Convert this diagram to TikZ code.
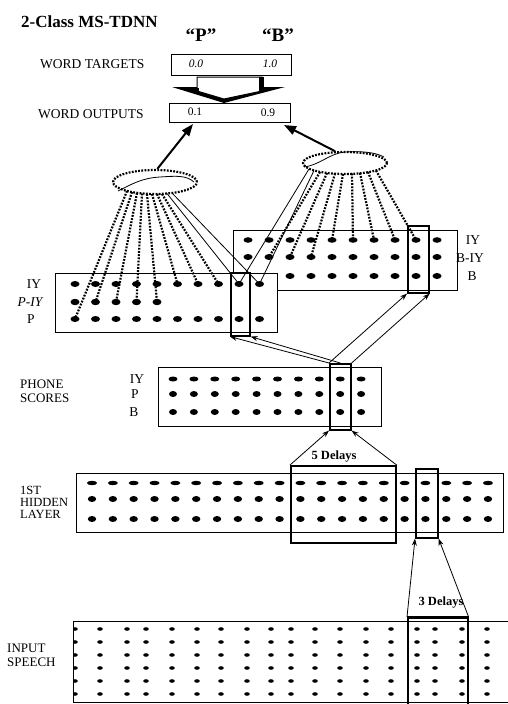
\documentclass[tikz,border=0pt]{standalone}
\usepackage{fontspec}
\setmainfont{Liberation Serif}
\usetikzlibrary{arrows.meta,shapes.geometric,calc}
\begin{document}
\begin{tikzpicture}[x=1pt,y=-1pt,
  lab/.style={font=\fontsize{13.5}{13.5}\selectfont, inner sep=0pt},
  box/.style={draw, line width=0.8pt, fill=white, inner sep=0pt, anchor=north west},
  hl/.style={draw, line width=1.6pt, inner sep=0pt, anchor=north west},
  fan/.style={line width=2.2pt, dash pattern=on 1.8pt off 1.4pt},
  solidfan/.style={line width=0.8pt},
  thinarrow/.style={line width=0.8pt, -{Stealth[length=7pt,width=5pt]}},
  bigarrow/.style={line width=2pt, -{Triangle[length=12pt,width=9pt]}},
  delays/.style={font=\bfseries\fontsize{12.5}{12.5}\selectfont, inner sep=0pt}
]
\useasboundingbox (0,0) rectangle (507,704);

% ---- title and word level ----
\node[anchor=west, inner sep=0pt, font=\bfseries\fontsize{17}{17}\selectfont] (title) at (21,22) {2-Class MS-TDNN};
\node[inner sep=0pt, font=\bfseries\fontsize{19}{19}\selectfont] (qp) at (201,35) {“P”};
\node[inner sep=0pt, font=\bfseries\fontsize{19}{19}\selectfont] (qb) at (278,35) {“B”};

\node[lab, anchor=west] (wtl) at (40,64) {WORD TARGETS};
\node[box, minimum width=120pt, minimum height=21pt] (wt) at (171,54) {};
\node[inner sep=0pt, font=\itshape\fontsize{11.5}{11.5}\selectfont] (t0) at (196,64) {0.0};
\node[inner sep=0pt, font=\itshape\fontsize{11.5}{11.5}\selectfont] (t1) at (270,64) {1.0};

\node[lab, anchor=west] (wol) at (38,114) {WORD OUTPUTS};
\node[box, minimum width=121pt, minimum height=19pt] (wo) at (169,103) {};
\node[inner sep=0pt, font=\fontsize{11.5}{11.5}\selectfont] (o1) at (195,112) {0.1};
\node[inner sep=0pt, font=\fontsize{11.5}{11.5}\selectfont] (o9) at (268,113) {0.9};

% hollow comparison arrow
\fill (172,87) -- (285,87) -- (224,103) -- cycle;
\filldraw[fill=white, line width=1pt, line join=miter] (197,77) -- (262,77) -- (262,91) -- (224,99) -- (197,91) -- cycle;
\fill (259,77) rectangle (264,92);
\fill (195,88) rectangle (199,92);

% ---- ellipses ----
\node[ellipse, draw, fan, minimum width=84pt, minimum height=24pt, inner sep=0pt] (le) at (155,182) {};
\node[ellipse, draw, fan, minimum width=84pt, minimum height=22pt, inner sep=0pt] (re) at (345,163) {};
\draw[line width=0.8pt] (118,191) .. controls (132,184) and (142,178) .. (160,177) .. controls (176,176) and (186,175) .. (194,182);
\draw[line width=0.8pt] (304,167) .. controls (320,165) and (330,153) .. (345,152) .. controls (360,151) and (375,152) .. (384,157);
\coordinate (wo-l) at (193,124);
\coordinate (wo-r) at (284,125);
\draw[bigarrow] (le.80) -- (wo-l);
\draw[bigarrow] (re.130) -- (wo-r);

% fan start points on the ellipses
\foreach \i/\dx/\dy in {1/-28/9,2/-23/10,3/-18/11,4/-13/11.5,5/-8/12,6/-3/12,7/2/12,8/7/12,9/12/11.5,10/17/11} {
  \coordinate (ls\i) at ($(le.center)+(\dx,\dy)$);
}
\foreach \i/\dx/\dy in {1/-36/6,2/-31/7.5,3/-25/9,4/-18/10,5/-10/10.5,6/-2/11,7/7/10.5,8/15/10,9/23/9,10/31/7.5} {
  \coordinate (rs\i) at ($(re.center)+(\dx,\dy)$);
}

% ---- B word box ----
\node[box, minimum width=224pt, minimum height=60pt] (bbox) at (233,230) {};
\foreach \c in {1,...,10} {
  \coordinate (B-1-\c) at ({248+21*(\c-1)},240);
  \coordinate (B-2-\c) at ({248+21*(\c-1)},257);
  \coordinate (B-3-\c) at ({248+21*(\c-1)},276);
  \fill (B-1-\c) ellipse [x radius=4.5pt, y radius=2.8pt];
  \fill (B-2-\c) ellipse [x radius=4.5pt, y radius=3pt];
  \fill (B-3-\c) ellipse [x radius=4.5pt, y radius=3pt];
}
\draw[fan] (rs3) -- (B-2-2);
\draw[fan] (rs4) -- (B-2-3);
\draw[fan] (rs5) -- (B-2-4);
\draw[fan] (rs6) -- (B-1-5);
\draw[fan] (rs7) -- (B-1-6);
\draw[fan] (rs8) -- (B-1-7);
\draw[fan] (rs9) -- (B-1-8);
\draw[fan] (rs10) -- (B-1-9);
\node[lab] (bl1) at (473,240) {IY};
\node[lab] (bl2) at (470,258) {B-IY};
\node[lab] (bl3) at (472,276) {B};

% ---- P word box ----
\node[box, minimum width=222pt, minimum height=59pt] (pbox) at (55,273) {};
\foreach \c in {1,...,10} {
  \coordinate (P-1-\c) at ({75+20.5*(\c-1)},284);
  \coordinate (P-2-\c) at ({75+20.5*(\c-1)},302);
  \coordinate (P-3-\c) at ({75+20.5*(\c-1)},319);
  \fill (P-1-\c) ellipse [x radius=4.5pt, y radius=3pt];
  \fill (P-3-\c) ellipse [x radius=4.5pt, y radius=3pt];
}
\foreach \c in {1,...,5} { \fill (P-2-\c) ellipse [x radius=4.5pt, y radius=3.2pt]; }
\draw[fan] (ls1) -- (P-3-1);
\draw[fan] (ls2) -- (P-2-2);
\draw[fan] (ls3) -- (P-2-3);
\draw[fan] (ls4) -- (P-2-4);
\draw[fan] (ls5) -- (P-2-5);
\draw[fan] (ls6) -- (P-1-6);
\draw[fan] (ls7) -- (P-1-7);
\draw[fan] (ls8) -- (P-1-8);
\draw[solidfan] (ls9) -- (P-1-9);
\draw[solidfan] (ls10) -- (P-1-10);
\draw[solidfan] (rs1) -- (P-1-9);
\draw[solidfan] (rs2) -- (P-1-10);
\node[lab] (pl1) at (34,284) {IY};
\node[lab, font=\itshape\fontsize{13.5}{13.5}\selectfont] (pl2) at (30,302) {P-IY};
\node[lab] (pl3) at (31,319) {P};

\node[hl, minimum width=19pt, minimum height=63pt] (plh) at (230,272) {};
\node[hl, minimum width=21pt, minimum height=67pt] (bh) at (407,225) {};

% ---- phone scores ----
\node[lab, anchor=west, font=\fontsize{13}{13}\selectfont] (ps1) at (20,384) {PHONE};
\node[lab, anchor=west, font=\fontsize{13}{13}\selectfont] (ps2) at (20,398) {SCORES};
\node[box, minimum width=223pt, minimum height=59pt] (phone) at (158,367) {};
\foreach \c in {1,...,10} {
  \fill ({173+20.9*(\c-1)},379) ellipse [x radius=4.5pt, y radius=2.5pt];
  \fill ({173+20.9*(\c-1)},394) ellipse [x radius=4pt, y radius=3pt];
  \fill ({173+20.9*(\c-1)},412) ellipse [x radius=4pt, y radius=3pt];
}
\node[lab] (ph1) at (137,379) {IY};
\node[lab] (ph2) at (135,394) {P};
\node[lab] (ph3) at (134,412) {B};
\node[hl, minimum width=21pt, minimum height=66pt] (phh) at (329,363) {};

\draw[thinarrow] (phh.north west) -- (plh.south west);
\draw[thinarrow] (phh.north) -- (plh.south east);
\draw[thinarrow] (phh.north west) -- (bh.south west);
\draw[thinarrow] (phh.north east) -- (bh.south east);

% ---- 1st hidden layer ----
\node[lab, anchor=west, font=\fontsize{12.5}{12.5}\selectfont] (h1) at (20,490) {1ST};
\node[lab, anchor=west, font=\fontsize{12.5}{12.5}\selectfont] (h2) at (20,502) {HIDDEN};
\node[lab, anchor=west, font=\fontsize{12.5}{12.5}\selectfont] (h3) at (20,514) {LAYER};
\node[box, minimum width=427pt, minimum height=59pt] (hid) at (76,473) {};
\foreach \c in {1,...,20} {
  \fill ({92+20.84*(\c-1)},483) ellipse [x radius=5pt, y radius=2.2pt];
  \fill ({92+20.84*(\c-1)},499) ellipse [x radius=4.2pt, y radius=3pt];
  \fill ({92+20.84*(\c-1)},519) ellipse [x radius=4.2pt, y radius=3pt];
}
\node[hl, minimum width=105pt, minimum height=77pt] (d5) at (290,465) {};
\node[hl, minimum width=22pt, minimum height=69pt] (hh) at (415,468) {};
\node[delays] (l5) at (334,457) {5 Delays};
\draw[thinarrow] (d5.north west) -- (phh.south west);
\draw[thinarrow] (d5.north east) -- (phh.south east);

% ---- input speech ----
\node[lab, anchor=west, font=\fontsize{13}{13}\selectfont] (in1) at (7,648) {INPUT};
\node[lab, anchor=west, font=\fontsize{13}{13}\selectfont] (in2) at (7,662) {SPEECH};
\begin{scope}
\clip (73,621) rectangle (507,704);
\foreach \x in {75,100,127,146,172,197,221,247,271,291,315,340,366,391,417,435,462,487} {
  \foreach \y in {629,642,655,668,681,694} {
    \fill (\x,\y) ellipse [x radius=2.8pt, y radius=1.8pt];
  }
}
\end{scope}
\node[box, fill=none, minimum width=440pt, minimum height=81pt] (inbox) at (73,621) {};
\node[hl, minimum width=60pt, minimum height=100pt] (d3) at (407,617) {};
\draw[line width=3pt] (d3.north west) -- (d3.north east);
\node[delays] (l3) at (441,603) {3 Delays};
\draw[thinarrow] (d3.north west) -- (hh.south west);
\draw[thinarrow] (d3.north east) -- (hh.south east);
\end{tikzpicture}
\end{document}
